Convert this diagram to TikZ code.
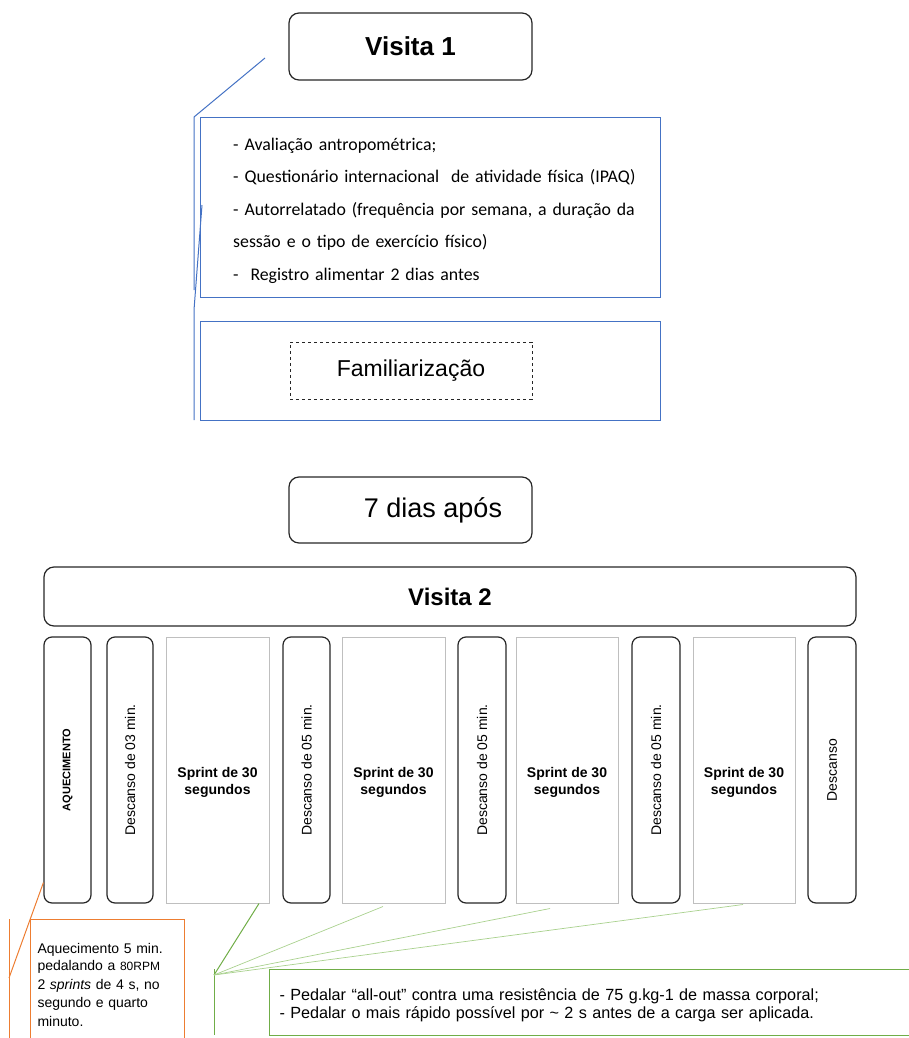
\documentclass[tikz,border=0pt]{standalone}
\usepackage{fontspec}
\setmainfont{Liberation Sans}
\newfontfamily\calibfont{Carlito}
\usepackage{tikz}

\definecolor{boxblack}{HTML}{262626}
\definecolor{boxgray}{HTML}{BFBFBF}
\definecolor{callblue}{HTML}{4472C4}
\definecolor{callorange}{HTML}{ED7D31}
\definecolor{callgreen}{HTML}{70AD47}
\definecolor{lightgreen}{HTML}{A9D18E}

\tikzset{
  titlebox/.style={draw=boxblack, line width=1.2bp, rounded corners=10bp,
    minimum width=243bp, minimum height=67bp, inner sep=0pt},
  restbox/.style={draw=boxblack, line width=1.2bp, rounded corners=8bp, rotate=90,
    minimum width=266bp, minimum height=47bp, inner sep=0pt,
    font=\fontsize{14bp}{16bp}\selectfont},
  sprintbox/.style={draw=boxgray, line width=1bp, minimum width=103bp,
    minimum height=266bp, inner sep=0pt, align=center, text height=52bp,
    font=\bfseries\fontsize{14bp}{17bp}\selectfont},
  bluebox/.style={draw=callblue, line width=1bp, inner sep=0pt},
  blueline/.style={draw=callblue, line width=1bp},
  orangeline/.style={draw=callorange, line width=1bp},
  greenline/.style={draw=callgreen, line width=1bp},
  palegreen/.style={draw=lightgreen, line width=0.7bp}
}

\begin{document}
\begin{tikzpicture}[x=1bp,y=-1bp]
  \useasboundingbox (0,0) rectangle (909,1038);
  \clip (0,0) rectangle (909,1038);

  % visita 1
  \node[titlebox, font=\bfseries\fontsize{26bp}{30bp}\selectfont] (visit1) at (410.5,46.5) {Visita 1};

  \node[bluebox, minimum width=459bp, minimum height=180bp] (testframe) at (430.5,207) {};
  \node[anchor=north west, inner sep=0pt, text width=420bp, align=left,
        font=\calibfont\fontsize{17.8bp}{32.5bp}\selectfont] (tests) at (233,137.5)
    {- Avaliação antropométrica;\\
     - Questionário internacional\ \ de atividade física (IPAQ)\\
     - Autorrelatado (frequência por semana, a duração da\\
     sessão e o tipo de exercício físico)\\
     -\ \ Registro alimentar 2 dias antes};

  \node[bluebox, minimum width=459bp, minimum height=99bp] (famframe) at (430.5,370.5) {};
  \node[draw=boxblack, dashed, line width=0.7bp, minimum width=242bp, minimum height=57bp,
        inner sep=0pt, font=\fontsize{23bp}{26bp}\selectfont] (famil) at (411,370.5) {Familiarização};

  \coordinate (b1) at (265,58);
  \coordinate (b2) at (194,117);
  \coordinate (b3) at (194,290);
  \coordinate (b4) at (202,205);
  \coordinate (b5) at (194,310);
  \coordinate (b6) at (194,420);
  \draw[blueline] (b1) -- (b2) -- (b3);
  \draw[blueline] (b4) -- (b5) -- (b6);

  % 7 dias
  \node[titlebox, minimum height=66bp] (gap) at (410.5,510) {};
  \node[font=\fontsize{27bp}{30bp}\selectfont] (gaptxt) at (433,510) {7 dias após};

  % visita 2
  \node[titlebox, minimum width=812bp, minimum height=59bp,
        font=\bfseries\fontsize{24bp}{28bp}\selectfont] (visit2) at (450,596.5) {Visita 2};

  \node[restbox, font=\bfseries\fontsize{11bp}{13bp}\selectfont] (warm) at (67.5,770) {AQUECIMENTO};
  \node[restbox, minimum height=46bp] (rest1) at (130,770) {Descanso de 03 min.};
  \node[sprintbox] (s1) at (217.5,770) {Sprint de 30\\segundos};
  \node[restbox] (rest2) at (306.5,770) {Descanso de 05 min.};
  \node[sprintbox] (s2) at (393.5,770) {Sprint de 30\\segundos};
  \node[restbox, minimum height=48bp] (rest3) at (482,770) {Descanso de 05 min.};
  \node[sprintbox, minimum width=102bp] (s3) at (567,770) {Sprint de 30\\segundos};
  \node[restbox, minimum height=48bp] (rest4) at (656,770) {Descanso de 05 min.};
  \node[sprintbox, minimum width=102bp] (s4) at (744,770) {Sprint de 30\\segundos};
  \node[restbox, minimum height=48bp] (rest5) at (832,770) {Descanso};

  % aquecimento
  \node[draw=callorange, line width=1bp, anchor=north west, text width=140bp,
        inner xsep=7bp, inner ysep=20bp, minimum height=130bp, align=left,
        font=\fontsize{14bp}{18.5bp}\selectfont] (warmnote) at (30,919)
    {\vspace{-1bp}Aquecimento 5 min.\\
     pedalando a {\fontsize{12bp}{14bp}\selectfont 80RPM}\\
     2 \textit{sprints} de 4 s, no\\
     segundo e quarto\\
     minuto.\\[14bp]};
  \coordinate (o1) at (9,919);
  \coordinate (o2) at (9,1040);
  \coordinate (otip) at (9,978);
  \draw[orangeline] (o1) -- (o2);
  \draw[orangeline] (otip) -- ([yshift=21bp]warm.north west);

  % sprints
  \node[draw=callgreen, line width=1bp, anchor=north west, minimum width=660bp,
        minimum height=66bp, text width=640bp, inner xsep=6bp, align=left, text height=17.5bp,
        font=\fontsize{16.2bp}{18bp}\selectfont] (sprintnote) at (269,969)
    {- Pedalar “all-out” contra uma resistência de 75 g.kg-1 de massa corporal;\\
     - Pedalar o mais rápido possível por \textasciitilde{} 2 s antes de a carga ser aplicada.};
  \coordinate (g1) at (214,969);
  \coordinate (g2) at (214,1035);
  \coordinate (gtip) at (214,975);
  \draw[greenline] (g1) -- (g2);
  \draw[greenline] (gtip) -- ([xshift=41.5bp]s1.south);
  \draw[palegreen] (gtip) -- ([xshift=-10.5bp,yshift=-3bp]s2.south);
  \draw[palegreen] (gtip) -- ([xshift=-17bp,yshift=-5bp]s3.south);
  \draw[palegreen] (gtip) -- ([xshift=-1bp,yshift=-1bp]s4.south);

\end{tikzpicture}
\end{document}
